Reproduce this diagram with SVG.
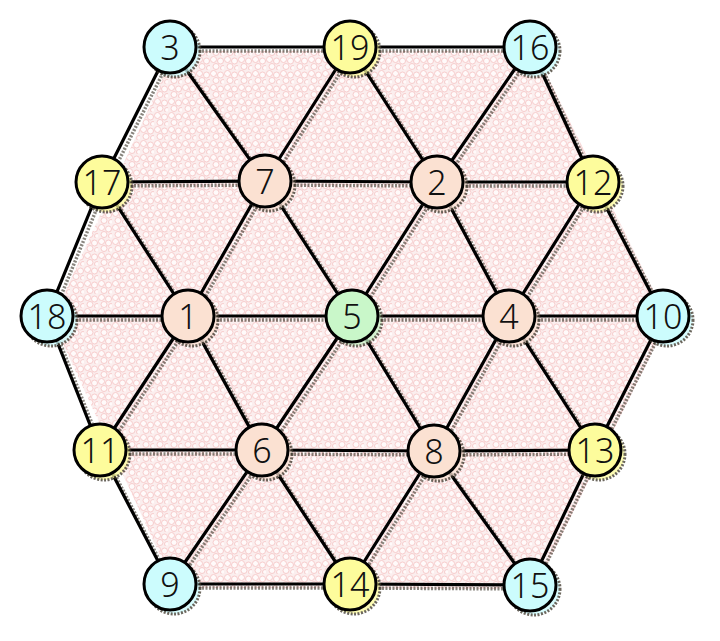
<svg xmlns="http://www.w3.org/2000/svg" width="720" height="641" viewBox="0 0 720 641">
<style>
.e{stroke:#000;stroke-width:3.2;stroke-linecap:round}
.s{stroke:#3a3428;stroke-width:3.5;stroke-dasharray:2 1.5;opacity:0.6}
.n circle.c{stroke:#000;stroke-width:3}
.n circle.sh{stroke:#3a3428;stroke-width:3;stroke-dasharray:2 1.5;opacity:0.75}
.n text{font-family:"Noto Sans","Noto Sans CJK JP","DejaVu Sans",sans-serif;font-weight:300;font-size:34px;fill:#111;text-anchor:middle;dominant-baseline:central}
.cy{fill:#ccfcfd}.ye{fill:#fdfc9c}.pe{fill:#fbe1d2}.gr{fill:#c9f7c9}
</style>
<defs>
<pattern id="dots" width="14" height="14" patternUnits="userSpaceOnUse">
<rect width="14" height="14" fill="#fbeeee"/>
<g fill="#fffafa" stroke="#f7cccc" stroke-width="1">
<circle cx="3.5" cy="3.5" r="3"/>
<circle cx="10.5" cy="5" r="3"/>
<circle cx="6" cy="10.5" r="3"/>
<circle cx="13" cy="12" r="2.5"/>
</g>
</pattern>
<g id="lines">
<line x1="170" y1="47" x2="350" y2="47"/><line x1="350" y1="47" x2="530" y2="47"/>
<line x1="102" y1="182" x2="265" y2="181"/><line x1="265" y1="181" x2="437" y2="182"/><line x1="437" y1="182" x2="593" y2="182"/>
<line x1="47" y1="316" x2="188" y2="316"/><line x1="188" y1="316" x2="352" y2="316"/><line x1="352" y1="316" x2="509" y2="316"/><line x1="509" y1="316" x2="663" y2="316"/>
<line x1="100" y1="450" x2="262" y2="450"/><line x1="262" y1="450" x2="434" y2="451"/><line x1="434" y1="451" x2="595" y2="450"/>
<line x1="170" y1="584" x2="350" y2="584"/><line x1="350" y1="584" x2="530" y2="585"/>
<line x1="170" y1="47" x2="102" y2="182"/><line x1="170" y1="47" x2="265" y2="181"/>
<line x1="350" y1="47" x2="265" y2="181"/><line x1="350" y1="47" x2="437" y2="182"/>
<line x1="530" y1="47" x2="437" y2="182"/><line x1="530" y1="47" x2="593" y2="182"/>
<line x1="102" y1="182" x2="47" y2="316"/><line x1="102" y1="182" x2="188" y2="316"/>
<line x1="265" y1="181" x2="188" y2="316"/><line x1="265" y1="181" x2="352" y2="316"/>
<line x1="437" y1="182" x2="352" y2="316"/><line x1="437" y1="182" x2="509" y2="316"/>
<line x1="593" y1="182" x2="509" y2="316"/><line x1="593" y1="182" x2="663" y2="316"/>
<line x1="100" y1="450" x2="47" y2="316"/><line x1="100" y1="450" x2="188" y2="316"/>
<line x1="262" y1="450" x2="188" y2="316"/><line x1="262" y1="450" x2="352" y2="316"/>
<line x1="434" y1="451" x2="352" y2="316"/><line x1="434" y1="451" x2="509" y2="316"/>
<line x1="595" y1="450" x2="509" y2="316"/><line x1="595" y1="450" x2="663" y2="316"/>
<line x1="170" y1="584" x2="100" y2="450"/><line x1="170" y1="584" x2="262" y2="450"/>
<line x1="350" y1="584" x2="262" y2="450"/><line x1="350" y1="584" x2="434" y2="451"/>
<line x1="530" y1="585" x2="434" y2="451"/><line x1="530" y1="585" x2="595" y2="450"/>
</g>
</defs>
<polygon points="175,51 535,51 668,320 535,589 175,588 52,320" fill="url(#dots)"/>
<g id="connectors">
<use href="#lines" class="s" transform="translate(4,4)"/>
<use href="#lines" class="e"/>
</g>
<g id="node-3" class="n"><circle class="sh cy" cx="174" cy="51" r="26"/><circle class="c cy" cx="170" cy="47" r="26"/><text x="170" y="47">3</text></g>
<g id="node-19" class="n"><circle class="sh ye" cx="354" cy="51" r="26"/><circle class="c ye" cx="350" cy="47" r="26"/><text x="350" y="47">19</text></g>
<g id="node-16" class="n"><circle class="sh cy" cx="534" cy="51" r="26"/><circle class="c cy" cx="530" cy="47" r="26"/><text x="530" y="47">16</text></g>
<g id="node-17" class="n"><circle class="sh ye" cx="106" cy="186" r="26"/><circle class="c ye" cx="102" cy="182" r="26"/><text x="102" y="182">17</text></g>
<g id="node-7" class="n"><circle class="sh pe" cx="269" cy="185" r="26"/><circle class="c pe" cx="265" cy="181" r="26"/><text x="265" y="181">7</text></g>
<g id="node-2" class="n"><circle class="sh pe" cx="441" cy="186" r="26"/><circle class="c pe" cx="437" cy="182" r="26"/><text x="437" y="182">2</text></g>
<g id="node-12" class="n"><circle class="sh ye" cx="597" cy="186" r="26"/><circle class="c ye" cx="593" cy="182" r="26"/><text x="593" y="182">12</text></g>
<g id="node-18" class="n"><circle class="sh cy" cx="51" cy="320" r="26"/><circle class="c cy" cx="47" cy="316" r="26"/><text x="47" y="316">18</text></g>
<g id="node-1" class="n"><circle class="sh pe" cx="192" cy="320" r="26"/><circle class="c pe" cx="188" cy="316" r="26"/><text x="188" y="316">1</text></g>
<g id="node-5" class="n"><circle class="sh gr" cx="356" cy="320" r="26"/><circle class="c gr" cx="352" cy="316" r="26"/><text x="352" y="316">5</text></g>
<g id="node-4" class="n"><circle class="sh pe" cx="513" cy="320" r="26"/><circle class="c pe" cx="509" cy="316" r="26"/><text x="509" y="316">4</text></g>
<g id="node-10" class="n"><circle class="sh cy" cx="667" cy="320" r="26"/><circle class="c cy" cx="663" cy="316" r="26"/><text x="663" y="316">10</text></g>
<g id="node-11" class="n"><circle class="sh ye" cx="104" cy="454" r="26"/><circle class="c ye" cx="100" cy="450" r="26"/><text x="100" y="450">11</text></g>
<g id="node-6" class="n"><circle class="sh pe" cx="266" cy="454" r="26"/><circle class="c pe" cx="262" cy="450" r="26"/><text x="262" y="450">6</text></g>
<g id="node-8" class="n"><circle class="sh pe" cx="438" cy="455" r="26"/><circle class="c pe" cx="434" cy="451" r="26"/><text x="434" y="451">8</text></g>
<g id="node-13" class="n"><circle class="sh ye" cx="599" cy="454" r="26"/><circle class="c ye" cx="595" cy="450" r="26"/><text x="595" y="450">13</text></g>
<g id="node-9" class="n"><circle class="sh cy" cx="174" cy="588" r="26"/><circle class="c cy" cx="170" cy="584" r="26"/><text x="170" y="584">9</text></g>
<g id="node-14" class="n"><circle class="sh ye" cx="354" cy="588" r="26"/><circle class="c ye" cx="350" cy="584" r="26"/><text x="350" y="584">14</text></g>
<g id="node-15" class="n"><circle class="sh cy" cx="534" cy="589" r="26"/><circle class="c cy" cx="530" cy="585" r="26"/><text x="530" y="585">15</text></g>
</svg>
